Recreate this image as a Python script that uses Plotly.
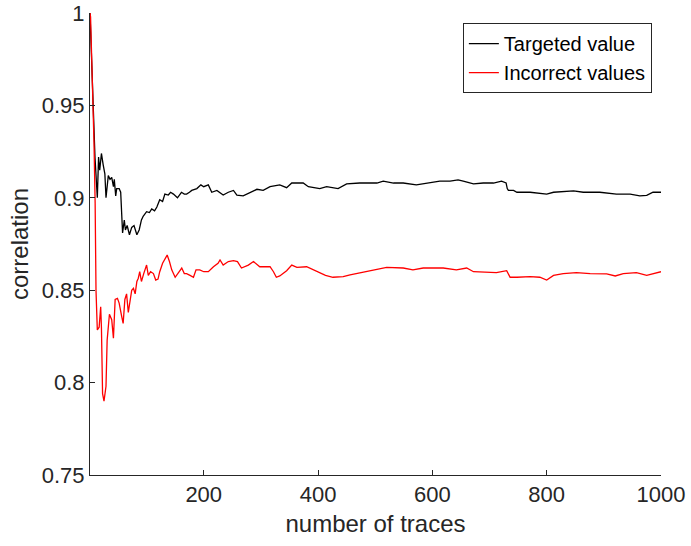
import plotly.graph_objects as go

# Running correlation versus number of traces
targeted_n = [1, 4, 7, 9.7, 13.8, 16, 18, 21, 24, 27, 29, 33, 36, 39, 42, 43.5, 46, 47.7, 52, 54.7,
              58, 61, 63, 66, 70, 74, 78, 83, 87, 91, 94, 100, 105, 109, 114, 118, 123, 128, 132, 138,
              142, 147, 154, 161, 166, 170, 175, 179, 188, 195, 200, 208, 214, 223, 234, 243, 252, 258,
              269, 281, 293, 304, 316, 333, 345, 354, 374, 383, 403, 415, 435, 450, 473, 503, 514, 532,
              549, 572, 590, 613, 631, 645, 654, 672, 689, 707, 721, 729, 731, 733, 742, 748, 771, 800,
              812, 847, 864, 893, 922, 946, 963, 975, 986, 1000]
targeted_corr = [1.0, 0.972, 0.945, 0.922, 0.900, 0.922, 0.915, 0.924, 0.918, 0.913, 0.900, 0.912, 0.910,
                 0.911, 0.906, 0.910, 0.901, 0.905, 0.905, 0.903, 0.881, 0.888, 0.8826, 0.885, 0.880,
                 0.884, 0.885, 0.880, 0.8826, 0.888, 0.890, 0.8925, 0.892, 0.894, 0.893, 0.895, 0.899,
                 0.898, 0.902, 0.9015, 0.903, 0.902, 0.900, 0.903, 0.902, 0.902, 0.903, 0.904, 0.905,
                 0.907, 0.906, 0.907, 0.903, 0.904, 0.9015, 0.903, 0.904, 0.9015, 0.901, 0.903, 0.9046,
                 0.904, 0.906, 0.907, 0.9055, 0.908, 0.908, 0.906, 0.905, 0.906, 0.905, 0.9075, 0.908,
                 0.908, 0.909, 0.908, 0.908, 0.907, 0.908, 0.909, 0.909, 0.9097, 0.909, 0.9075, 0.908,
                 0.908, 0.909, 0.908, 0.905, 0.904, 0.904, 0.903, 0.903, 0.902, 0.903, 0.9037, 0.903,
                 0.903, 0.902, 0.902, 0.901, 0.9013, 0.903, 0.903]

incorrect_n = [1, 2, 4, 6, 8, 10, 11.5, 13.8, 17, 19.7, 21, 23, 25.5, 29, 31, 35, 39, 42, 45, 49, 52,
               56.5, 59, 62, 65, 68, 71, 74, 77, 80, 83, 85.5, 88, 91, 95, 100, 103, 107, 112, 116, 120,
               123, 128, 132, 136, 140, 144, 150, 156, 161.5, 166, 170, 176, 182, 186.5, 193, 200, 208,
               217, 225, 228.5, 234, 243, 252, 259, 266, 278, 287, 298, 301, 316, 322, 327, 333, 345,
               354, 363, 380, 392, 400, 413, 426, 444, 456, 479, 502, 520, 549, 566, 584, 619, 642, 660,
               672, 695, 712, 730, 736, 748, 771, 788, 800, 812, 829, 852, 876, 905, 920, 934, 957, 975,
               993, 1000]
incorrect_corr = [1.0, 0.998, 0.975, 0.955, 0.93, 0.897, 0.850, 0.8285, 0.830, 0.841, 0.830, 0.794,
                  0.790, 0.798, 0.823, 0.837, 0.834, 0.824, 0.845, 0.8456, 0.843, 0.8357, 0.832, 0.845,
                  0.848, 0.838, 0.845, 0.850, 0.851, 0.848, 0.8547, 0.8565, 0.860, 0.8547, 0.859,
                  0.8636, 0.858, 0.860, 0.859, 0.8555, 0.856, 0.860, 0.8646, 0.867, 0.869, 0.8655,
                  0.861, 0.857, 0.860, 0.862, 0.859, 0.859, 0.858, 0.857, 0.861, 0.861, 0.860, 0.860,
                  0.8627, 0.8646, 0.8664, 0.8636, 0.8655, 0.866, 0.8655, 0.862, 0.8636, 0.8655, 0.8627,
                  0.8627, 0.8627, 0.860, 0.857, 0.8577, 0.8605, 0.8636, 0.8624, 0.8627, 0.861, 0.860,
                  0.858, 0.857, 0.8573, 0.8583, 0.8597, 0.8613, 0.8624, 0.862, 0.861, 0.862, 0.862,
                  0.861, 0.862, 0.860, 0.8595, 0.8595, 0.8606, 0.857, 0.857, 0.8573, 0.857, 0.8555,
                  0.858, 0.859, 0.8595, 0.859, 0.8588, 0.8577, 0.859, 0.8595, 0.858, 0.8597, 0.860]

x_ticks = [200, 400, 600, 800, 1000]
y_ticks = [0.75, 0.8, 0.85, 0.9, 0.95, 1]
y_tick_text = ["0.75", "0.8", "0.85", "0.9", "0.95", "1"]

FONT = "Liberation Sans, Arial, Helvetica, sans-serif"
AXIS_COLOR = "#262626"

fig = go.Figure()
fig.add_trace(go.Scatter(x=targeted_n, y=targeted_corr, mode="lines", name="Targeted value",
                         line=dict(color="black", width=1.3)))
fig.add_trace(go.Scatter(x=incorrect_n, y=incorrect_corr, mode="lines", name="Incorrect values",
                         line=dict(color="red", width=1.3)))

axis_common = dict(showgrid=False, zeroline=False, showline=True, linecolor=AXIS_COLOR, linewidth=1,
                   ticks="inside", ticklen=5, tickcolor=AXIS_COLOR, tickwidth=1, automargin=False,
                   tickfont=dict(family=FONT, size=22, color=AXIS_COLOR), mirror=False)

fig.update_layout(
    width=691, height=546,
    margin=dict(l=90, r=30, t=13, b=71),
    paper_bgcolor="white", plot_bgcolor="white",
    font=dict(family=FONT, color=AXIS_COLOR),
    xaxis=dict(range=[1, 1000], tickvals=x_ticks,
               title=dict(text="number of traces", font=dict(family=FONT, size=24, color=AXIS_COLOR),
                          standoff=8),
               **axis_common),
    yaxis=dict(range=[0.75, 1], tickvals=y_ticks, ticktext=y_tick_text,
               title=dict(text="correlation", font=dict(family=FONT, size=24, color=AXIS_COLOR),
                          standoff=6),
               **axis_common),
    legend=dict(x=0.984, y=0.978, xanchor="right", yanchor="top",
                bgcolor="white", bordercolor=AXIS_COLOR, borderwidth=1,
                font=dict(family=FONT, size=20, color="black"),
                itemwidth=30, tracegroupgap=0),
    showlegend=True,
)

fig.write_html("out.html")
